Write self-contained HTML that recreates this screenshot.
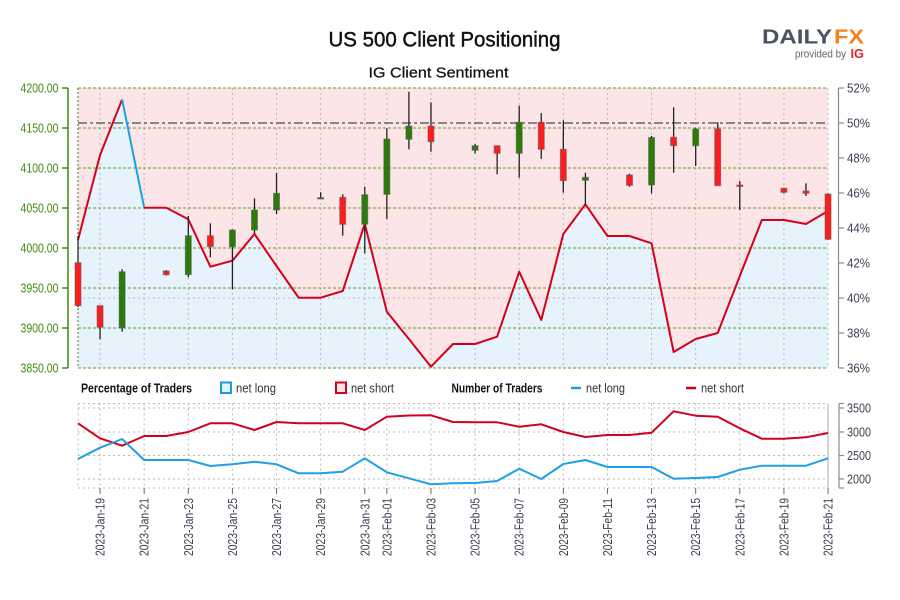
<!DOCTYPE html>
<html><head><meta charset="utf-8"><style>
html,body{margin:0;padding:0;background:#fff;}
svg{display:block;font-family:"Liberation Sans",sans-serif;}
</style></head><body>
<svg width="900" height="600" viewBox="0 0 900 600" xmlns="http://www.w3.org/2000/svg">
<rect width="900" height="600" fill="#fff"/>
<!-- titles -->
<text x="328.5" y="46.7" font-size="21" fill="#111" stroke="#111" stroke-width="0.45" textLength="232" lengthAdjust="spacingAndGlyphs">US 500 Client Positioning</text>
<text x="368.5" y="77.3" font-size="15" fill="#111" stroke="#111" stroke-width="0.25" textLength="140" lengthAdjust="spacingAndGlyphs">IG Client Sentiment</text>
<!-- logo -->
<text x="762" y="43.3" font-size="20.5" font-weight="bold" fill="#4a5160" textLength="70" lengthAdjust="spacingAndGlyphs">DAILY</text>
<text x="834" y="43.3" font-size="20.5" font-weight="bold" fill="#f5821f" textLength="30" lengthAdjust="spacingAndGlyphs">FX</text>
<text x="795" y="57.5" font-size="11" fill="#666" textLength="51" lengthAdjust="spacingAndGlyphs">provided by</text>
<text x="850.5" y="58" font-size="13" font-weight="bold" fill="#e8262e" textLength="13.5" lengthAdjust="spacingAndGlyphs">IG</text>

<!-- main plot backgrounds -->
<rect x="78" y="88" width="750" height="280" fill="#fbe5e6"/>
<polygon fill="#e6f3fc" points="78,240 100.06,155 122.12,99.5 144.18,207.7 166.24,207.7 188.3,219.3 210.36,266.7 232.42,260.7 254.48,234 276.54,266 298.6,297.7 320.66,297.7 342.72,291 364.78,224 386.84,311.7 408.9,339 430.96,366.7 453.02,344 475.08,344 497.14,336.7 519.2,271.7 541.26,320 563.32,234 585.38,204.3 607.44,236 629.5,236 651.56,243.3 673.62,352 695.68,339 717.74,333 739.8,276 761.86,220 783.92,220 805.98,224 828.04,211 828.04,368 78,368"/>

<!-- vertical gray dotted grid main -->
<g stroke="#b9b9b9" stroke-width="1" stroke-dasharray="2,3">
<line x1="100.06" y1="88" x2="100.06" y2="368"/><line x1="144.18" y1="88" x2="144.18" y2="368"/>
<line x1="188.3" y1="88" x2="188.3" y2="368"/><line x1="232.42" y1="88" x2="232.42" y2="368"/>
<line x1="276.54" y1="88" x2="276.54" y2="368"/><line x1="320.66" y1="88" x2="320.66" y2="368"/>
<line x1="364.78" y1="88" x2="364.78" y2="368"/><line x1="386.84" y1="88" x2="386.84" y2="368"/>
<line x1="430.96" y1="88" x2="430.96" y2="368"/><line x1="475.08" y1="88" x2="475.08" y2="368"/>
<line x1="519.2" y1="88" x2="519.2" y2="368"/><line x1="563.32" y1="88" x2="563.32" y2="368"/>
<line x1="607.44" y1="88" x2="607.44" y2="368"/><line x1="651.56" y1="88" x2="651.56" y2="368"/>
<line x1="695.68" y1="88" x2="695.68" y2="368"/><line x1="739.8" y1="88" x2="739.8" y2="368"/>
<line x1="783.92" y1="88" x2="783.92" y2="368"/><line x1="828" y1="88" x2="828" y2="368"/>
<line x1="78" y1="298" x2="828" y2="298"/>
</g>
<!-- green dashed horizontal grid -->
<g stroke="#5c9e2c" stroke-width="1" stroke-dasharray="3,2">
<line x1="78" y1="88" x2="828" y2="88"/><line x1="78" y1="128" x2="828" y2="128"/>
<line x1="78" y1="168" x2="828" y2="168"/><line x1="78" y1="208" x2="828" y2="208"/>
<line x1="78" y1="248" x2="828" y2="248"/><line x1="78" y1="288" x2="828" y2="288"/>
<line x1="78" y1="328" x2="828" y2="328"/><line x1="78" y1="368" x2="828" y2="368"/>
</g>
<line x1="78" y1="88" x2="78" y2="368" stroke="#4a6a3a" stroke-width="1" stroke-dasharray="2,2"/>
<!-- 50% dash-dot -->
<line x1="78" y1="123" x2="828" y2="123" stroke="#8c8183" stroke-width="2" stroke-dasharray="9,3,3,3"/>

<!-- sentiment line -->
<polyline fill="none" stroke="#d6001c" stroke-width="2" stroke-linejoin="round" points="78,240 100.06,155 122.12,99.5"/>
<polyline fill="none" stroke="#1ea0e6" stroke-width="2" points="122.12,99.5 144.18,207.7"/>
<polyline fill="none" stroke="#d6001c" stroke-width="2" stroke-linejoin="round" points="144.18,207.7 166.24,207.7 188.3,219.3 210.36,266.7 232.42,260.7 254.48,234 276.54,266 298.6,297.7 320.66,297.7 342.72,291 364.78,224 386.84,311.7 408.9,339 430.96,366.7 453.02,344 475.08,344 497.14,336.7 519.2,271.7 541.26,320 563.32,234 585.38,204.3 607.44,236 629.5,236 651.56,243.3 673.62,352 695.68,339 717.74,333 739.8,276 761.86,220 783.92,220 805.98,224 828.04,211"/>

<!-- candle wicks -->
<g stroke="#222" stroke-width="1.3">
<line x1="78" y1="236" x2="78" y2="307"/>
<line x1="100.06" y1="305.7" x2="100.06" y2="339.3"/>
<line x1="122.12" y1="269.3" x2="122.12" y2="331.7"/>
<line x1="166.24" y1="270" x2="166.24" y2="275.5"/>
<line x1="188.3" y1="216" x2="188.3" y2="277.3"/>
<line x1="210.36" y1="223.3" x2="210.36" y2="257.3"/>
<line x1="232.42" y1="229.3" x2="232.42" y2="289.3"/>
<line x1="254.48" y1="198.3" x2="254.48" y2="234"/>
<line x1="276.54" y1="172.7" x2="276.54" y2="214"/>
<line x1="320.66" y1="192.3" x2="320.66" y2="199"/>
<line x1="342.72" y1="194.3" x2="342.72" y2="235.7"/>
<line x1="364.78" y1="186.7" x2="364.78" y2="253.3"/>
<line x1="386.84" y1="128.3" x2="386.84" y2="219"/>
<line x1="408.9" y1="91.7" x2="408.9" y2="149.3"/>
<line x1="430.96" y1="102.3" x2="430.96" y2="151.7"/>
<line x1="475.08" y1="144" x2="475.08" y2="153.3"/>
<line x1="497.14" y1="145.7" x2="497.14" y2="174.3"/>
<line x1="519.2" y1="105.7" x2="519.2" y2="177.7"/>
<line x1="541.26" y1="113" x2="541.26" y2="159"/>
<line x1="563.32" y1="120.3" x2="563.32" y2="192.7"/>
<line x1="585.38" y1="172.7" x2="585.38" y2="204.3"/>
<line x1="629.5" y1="173.7" x2="629.5" y2="186.7"/>
<line x1="651.56" y1="136" x2="651.56" y2="193.3"/>
<line x1="673.62" y1="107.3" x2="673.62" y2="172.7"/>
<line x1="695.68" y1="127.7" x2="695.68" y2="166"/>
<line x1="717.74" y1="122.3" x2="717.74" y2="185.7"/>
<line x1="739.8" y1="181" x2="739.8" y2="210"/>
<line x1="783.92" y1="187.7" x2="783.92" y2="193.3"/>
<line x1="805.98" y1="183.3" x2="805.98" y2="196"/>
<line x1="828.04" y1="193.5" x2="828.04" y2="240"/>
</g>
<!-- candle bodies -->
<g stroke="rgba(90,90,90,0.55)" stroke-width="1">
<rect x="75" y="262.7" width="6" height="43" fill="#ff1c1c"/>
<rect x="97.06" y="305.7" width="6" height="21.6" fill="#ff1c1c"/>
<rect x="119.12" y="271.7" width="6" height="56" fill="#2c7a08"/>
<rect x="163.24" y="271" width="6" height="3.7" fill="#ff1c1c"/>
<rect x="185.3" y="235.7" width="6" height="39" fill="#2c7a08"/>
<rect x="207.36" y="235.7" width="6" height="11" fill="#ff1c1c"/>
<rect x="229.42" y="230" width="6" height="16.7" fill="#2c7a08"/>
<rect x="251.48" y="210" width="6" height="20" fill="#2c7a08"/>
<rect x="273.54" y="193.3" width="6" height="16.7" fill="#2c7a08"/>
<rect x="317.66" y="197.6" width="6" height="1.4" fill="#2c7a08"/>
<rect x="339.72" y="197.3" width="6" height="27" fill="#ff1c1c"/>
<rect x="361.78" y="194.7" width="6" height="29.6" fill="#2c7a08"/>
<rect x="383.84" y="139" width="6" height="55.3" fill="#2c7a08"/>
<rect x="405.9" y="126" width="6" height="13.3" fill="#2c7a08"/>
<rect x="427.96" y="126" width="6" height="15.7" fill="#ff1c1c"/>
<rect x="472.08" y="145.7" width="6" height="4.6" fill="#2c7a08"/>
<rect x="494.14" y="145.7" width="6" height="7.6" fill="#ff1c1c"/>
<rect x="516.2" y="122.3" width="6" height="31" fill="#2c7a08"/>
<rect x="538.26" y="122.3" width="6" height="27" fill="#ff1c1c"/>
<rect x="560.32" y="149.3" width="6" height="31.4" fill="#ff1c1c"/>
<rect x="582.38" y="177.3" width="6" height="3" fill="#2c7a08"/>
<rect x="626.5" y="175" width="6" height="10.3" fill="#ff1c1c"/>
<rect x="648.56" y="137.5" width="6" height="47.5" fill="#2c7a08"/>
<rect x="670.62" y="137.3" width="6" height="8.4" fill="#ff1c1c"/>
<rect x="692.68" y="129" width="6" height="16.7" fill="#2c7a08"/>
<rect x="714.74" y="129" width="6" height="56.7" fill="#ff1c1c"/>
<rect x="736.8" y="185" width="6" height="1.5" fill="#ff1c1c"/>
<rect x="780.92" y="188.3" width="6" height="4" fill="#ff1c1c"/>
<rect x="802.98" y="191" width="6" height="2.3" fill="#ff1c1c"/>
<rect x="825.04" y="194" width="6" height="45.3" fill="#ff1c1c"/>
</g>

<!-- left axis -->
<line x1="68" y1="88" x2="68" y2="368" stroke="#3d8c0e" stroke-width="1.5"/>
<g stroke="#3d8c0e" stroke-width="1.5">
<line x1="62" y1="88" x2="68" y2="88"/><line x1="62" y1="128" x2="68" y2="128"/>
<line x1="62" y1="168" x2="68" y2="168"/><line x1="62" y1="208" x2="68" y2="208"/>
<line x1="62" y1="248" x2="68" y2="248"/><line x1="62" y1="288" x2="68" y2="288"/>
<line x1="62" y1="328" x2="68" y2="328"/><line x1="62" y1="368" x2="68" y2="368"/>
</g>
<g font-size="13" fill="#3f8a12" text-anchor="end">
<text x="58.5" y="92.5" textLength="38" lengthAdjust="spacingAndGlyphs">4200.00</text>
<text x="58.5" y="132.5" textLength="38" lengthAdjust="spacingAndGlyphs">4150.00</text>
<text x="58.5" y="172.5" textLength="38" lengthAdjust="spacingAndGlyphs">4100.00</text>
<text x="58.5" y="212.5" textLength="38" lengthAdjust="spacingAndGlyphs">4050.00</text>
<text x="58.5" y="252.5" textLength="38" lengthAdjust="spacingAndGlyphs">4000.00</text>
<text x="58.5" y="292.5" textLength="38" lengthAdjust="spacingAndGlyphs">3950.00</text>
<text x="58.5" y="332.5" textLength="38" lengthAdjust="spacingAndGlyphs">3900.00</text>
<text x="58.5" y="372.5" textLength="38" lengthAdjust="spacingAndGlyphs">3850.00</text>
</g>
<!-- right axis main -->
<line x1="838.5" y1="88" x2="838.5" y2="368" stroke="#8a8a8a" stroke-width="1.2"/>
<g stroke="#8a8a8a" stroke-width="1.2">
<line x1="838.5" y1="88" x2="844" y2="88"/><line x1="838.5" y1="123" x2="844" y2="123"/>
<line x1="838.5" y1="158" x2="844" y2="158"/><line x1="838.5" y1="193" x2="844" y2="193"/>
<line x1="838.5" y1="228" x2="844" y2="228"/><line x1="838.5" y1="263" x2="844" y2="263"/>
<line x1="838.5" y1="298" x2="844" y2="298"/><line x1="838.5" y1="333" x2="844" y2="333"/>
<line x1="838.5" y1="368" x2="844" y2="368"/>
</g>
<g font-size="13" fill="#3b4150">
<text x="847" y="92.5" textLength="23" lengthAdjust="spacingAndGlyphs">52%</text>
<text x="847" y="127.5" textLength="23" lengthAdjust="spacingAndGlyphs">50%</text>
<text x="847" y="162.5" textLength="23" lengthAdjust="spacingAndGlyphs">48%</text>
<text x="847" y="197.5" textLength="23" lengthAdjust="spacingAndGlyphs">46%</text>
<text x="847" y="232.5" textLength="23" lengthAdjust="spacingAndGlyphs">44%</text>
<text x="847" y="267.5" textLength="23" lengthAdjust="spacingAndGlyphs">42%</text>
<text x="847" y="302.5" textLength="23" lengthAdjust="spacingAndGlyphs">40%</text>
<text x="847" y="337.5" textLength="23" lengthAdjust="spacingAndGlyphs">38%</text>
<text x="847" y="372.5" textLength="23" lengthAdjust="spacingAndGlyphs">36%</text>
</g>

<!-- legend -->
<text x="81" y="392.3" font-size="12.5" font-weight="bold" fill="#111" textLength="111" lengthAdjust="spacingAndGlyphs">Percentage of Traders</text>
<rect x="221" y="382.5" width="10" height="10.5" fill="#e6f3fc" stroke="#1a9be6" stroke-width="2"/>
<text x="236" y="392.3" font-size="12.5" fill="#333" textLength="40" lengthAdjust="spacingAndGlyphs">net long</text>
<rect x="336" y="382.5" width="10" height="10.5" fill="#fbe5e6" stroke="#d4001a" stroke-width="2"/>
<text x="351" y="392.3" font-size="12.5" fill="#333" textLength="43" lengthAdjust="spacingAndGlyphs">net short</text>
<text x="451.5" y="392.3" font-size="12.5" font-weight="bold" fill="#111" textLength="91" lengthAdjust="spacingAndGlyphs">Number of Traders</text>
<line x1="571" y1="388" x2="581" y2="388" stroke="#1e9fe6" stroke-width="2.5"/>
<text x="586" y="392.3" font-size="12.5" fill="#333" textLength="39" lengthAdjust="spacingAndGlyphs">net long</text>
<line x1="686" y1="388" x2="696" y2="388" stroke="#d0021b" stroke-width="2.5"/>
<text x="701" y="392.3" font-size="12.5" fill="#333" textLength="43" lengthAdjust="spacingAndGlyphs">net short</text>

<!-- bottom chart grid -->
<g stroke="#b9b9b9" stroke-width="1" stroke-dasharray="2,3">
<line x1="78" y1="403.5" x2="828" y2="403.5"/>
<line x1="78" y1="488" x2="828" y2="488"/>
<line x1="78" y1="408" x2="828" y2="408"/><line x1="78" y1="432" x2="828" y2="432"/>
<line x1="78" y1="455.5" x2="828" y2="455.5"/><line x1="78" y1="479" x2="828" y2="479"/>
<line x1="78" y1="403.5" x2="78" y2="488"/>
<line x1="100.06" y1="403.5" x2="100.06" y2="488"/><line x1="144.18" y1="403.5" x2="144.18" y2="488"/>
<line x1="188.3" y1="403.5" x2="188.3" y2="488"/><line x1="232.42" y1="403.5" x2="232.42" y2="488"/>
<line x1="276.54" y1="403.5" x2="276.54" y2="488"/><line x1="320.66" y1="403.5" x2="320.66" y2="488"/>
<line x1="364.78" y1="403.5" x2="364.78" y2="488"/><line x1="386.84" y1="403.5" x2="386.84" y2="488"/>
<line x1="430.96" y1="403.5" x2="430.96" y2="488"/><line x1="475.08" y1="403.5" x2="475.08" y2="488"/>
<line x1="519.2" y1="403.5" x2="519.2" y2="488"/><line x1="563.32" y1="403.5" x2="563.32" y2="488"/>
<line x1="607.44" y1="403.5" x2="607.44" y2="488"/><line x1="651.56" y1="403.5" x2="651.56" y2="488"/>
<line x1="695.68" y1="403.5" x2="695.68" y2="488"/><line x1="739.8" y1="403.5" x2="739.8" y2="488"/>
<line x1="783.92" y1="403.5" x2="783.92" y2="488"/>
</g>
<line x1="828" y1="403.5" x2="828" y2="488" stroke="#aaa" stroke-width="1"/>
<!-- bottom series -->
<polyline fill="none" stroke="#d0021b" stroke-width="2" stroke-linejoin="round" points="78,423.3 100.06,438.3 122.12,445.7 144.18,436 166.24,436 188.3,432 210.36,423.3 232.42,423.3 254.48,430 276.54,422 298.6,423.3 320.66,423.3 342.72,423.3 364.78,430 386.84,416.7 408.9,415.5 430.96,415.3 453.02,422 475.08,422.3 497.14,422.3 519.2,426.7 541.26,424.3 563.32,432 585.38,437 607.44,435 629.5,435 651.56,432.7 673.62,411.3 695.68,415.7 717.74,416.7 739.8,428.3 761.86,438.7 783.92,438.7 805.98,437.3 828.04,433"/>
<polyline fill="none" stroke="#1e9fe6" stroke-width="2" stroke-linejoin="round" points="78,459 100.06,447.7 122.12,439 144.18,460 166.24,460 188.3,460 210.36,466 232.42,464.3 254.48,461.7 276.54,464.3 298.6,473.3 320.66,473.3 342.72,471.7 364.78,458.3 386.84,472.3 408.9,478.3 430.96,484.3 453.02,483.3 475.08,483 497.14,481 519.2,468.7 541.26,479 563.32,464 585.38,460 607.44,467 629.5,467 651.56,467 673.62,478.7 695.68,478 717.74,477 739.8,469.7 761.86,465.7 783.92,465.7 805.98,465.7 828.04,458.3"/>

<!-- bottom right axis -->
<line x1="839" y1="403.5" x2="839" y2="488" stroke="#8a8a8a" stroke-width="1.2"/>
<g stroke="#8a8a8a" stroke-width="1.2">
<line x1="839" y1="403.5" x2="844" y2="403.5"/><line x1="839" y1="408" x2="844" y2="408"/>
<line x1="839" y1="432" x2="844" y2="432"/><line x1="839" y1="455.5" x2="844" y2="455.5"/>
<line x1="839" y1="479" x2="844" y2="479"/><line x1="839" y1="488" x2="844" y2="488"/>
</g>
<g font-size="13" fill="#3b4150">
<text x="847" y="412.5" textLength="24" lengthAdjust="spacingAndGlyphs">3500</text>
<text x="847" y="436.5" textLength="24" lengthAdjust="spacingAndGlyphs">3000</text>
<text x="847" y="460" textLength="24" lengthAdjust="spacingAndGlyphs">2500</text>
<text x="847" y="483.5" textLength="24" lengthAdjust="spacingAndGlyphs">2000</text>
</g>

<!-- x ticks -->
<g stroke="#666" stroke-width="1">
<line x1="100.06" y1="488" x2="100.06" y2="494"/><line x1="144.18" y1="488" x2="144.18" y2="494"/>
<line x1="188.3" y1="488" x2="188.3" y2="494"/><line x1="232.42" y1="488" x2="232.42" y2="494"/>
<line x1="276.54" y1="488" x2="276.54" y2="494"/><line x1="320.66" y1="488" x2="320.66" y2="494"/>
<line x1="364.78" y1="488" x2="364.78" y2="494"/><line x1="386.84" y1="488" x2="386.84" y2="494"/>
<line x1="430.96" y1="488" x2="430.96" y2="494"/><line x1="475.08" y1="488" x2="475.08" y2="494"/>
<line x1="519.2" y1="488" x2="519.2" y2="494"/><line x1="563.32" y1="488" x2="563.32" y2="494"/>
<line x1="607.44" y1="488" x2="607.44" y2="494"/><line x1="651.56" y1="488" x2="651.56" y2="494"/>
<line x1="695.68" y1="488" x2="695.68" y2="494"/><line x1="739.8" y1="488" x2="739.8" y2="494"/>
<line x1="783.92" y1="488" x2="783.92" y2="494"/><line x1="828.04" y1="488" x2="828.04" y2="494"/>
</g>
<!-- x labels -->
<g font-size="12.5" fill="#3b4150" text-anchor="end">
<text transform="translate(104.6,498) rotate(-90)" textLength="58" lengthAdjust="spacingAndGlyphs">2023-Jan-19</text>
<text transform="translate(148.7,498) rotate(-90)" textLength="58" lengthAdjust="spacingAndGlyphs">2023-Jan-21</text>
<text transform="translate(192.8,498) rotate(-90)" textLength="58" lengthAdjust="spacingAndGlyphs">2023-Jan-23</text>
<text transform="translate(236.9,498) rotate(-90)" textLength="58" lengthAdjust="spacingAndGlyphs">2023-Jan-25</text>
<text transform="translate(281,498) rotate(-90)" textLength="58" lengthAdjust="spacingAndGlyphs">2023-Jan-27</text>
<text transform="translate(325.2,498) rotate(-90)" textLength="58" lengthAdjust="spacingAndGlyphs">2023-Jan-29</text>
<text transform="translate(369.3,498) rotate(-90)" textLength="58" lengthAdjust="spacingAndGlyphs">2023-Jan-31</text>
<text transform="translate(391.3,498) rotate(-90)" textLength="58" lengthAdjust="spacingAndGlyphs">2023-Feb-01</text>
<text transform="translate(435.5,498) rotate(-90)" textLength="58" lengthAdjust="spacingAndGlyphs">2023-Feb-03</text>
<text transform="translate(479.6,498) rotate(-90)" textLength="58" lengthAdjust="spacingAndGlyphs">2023-Feb-05</text>
<text transform="translate(523.7,498) rotate(-90)" textLength="58" lengthAdjust="spacingAndGlyphs">2023-Feb-07</text>
<text transform="translate(567.8,498) rotate(-90)" textLength="58" lengthAdjust="spacingAndGlyphs">2023-Feb-09</text>
<text transform="translate(611.9,498) rotate(-90)" textLength="58" lengthAdjust="spacingAndGlyphs">2023-Feb-11</text>
<text transform="translate(656.1,498) rotate(-90)" textLength="58" lengthAdjust="spacingAndGlyphs">2023-Feb-13</text>
<text transform="translate(700.2,498) rotate(-90)" textLength="58" lengthAdjust="spacingAndGlyphs">2023-Feb-15</text>
<text transform="translate(744.3,498) rotate(-90)" textLength="58" lengthAdjust="spacingAndGlyphs">2023-Feb-17</text>
<text transform="translate(788.4,498) rotate(-90)" textLength="58" lengthAdjust="spacingAndGlyphs">2023-Feb-19</text>
<text transform="translate(832.5,498) rotate(-90)" textLength="58" lengthAdjust="spacingAndGlyphs">2023-Feb-21</text>
</g>
</svg>
</body></html>
